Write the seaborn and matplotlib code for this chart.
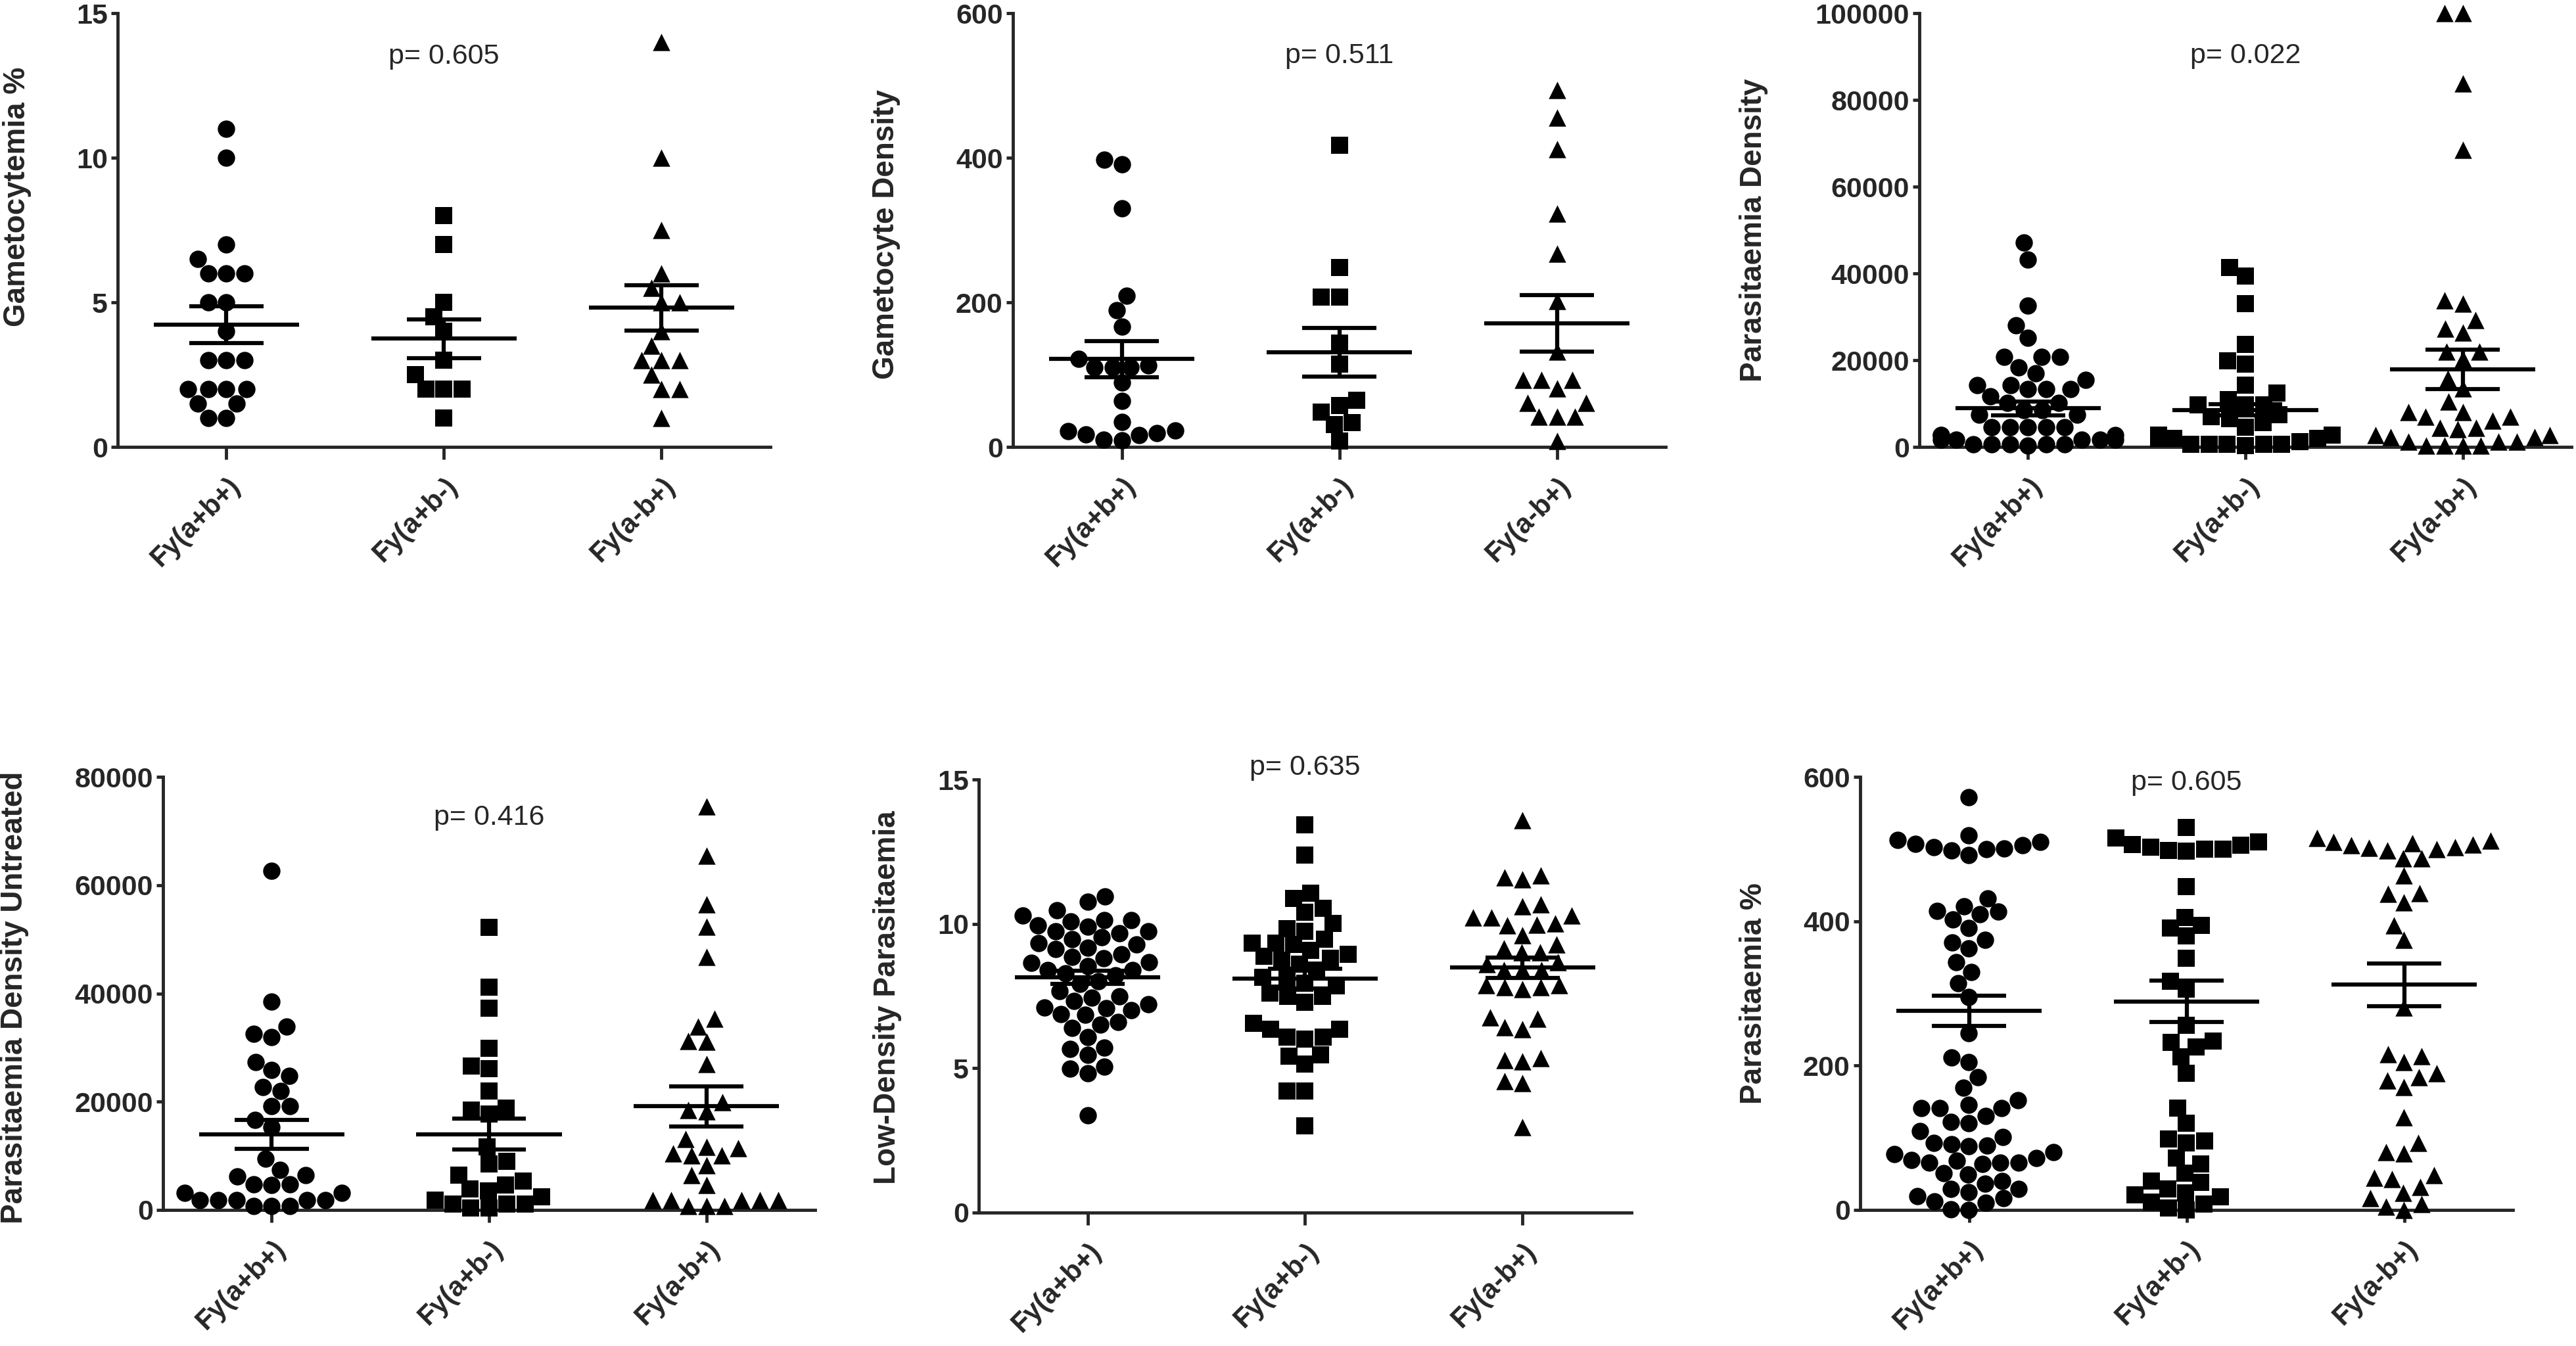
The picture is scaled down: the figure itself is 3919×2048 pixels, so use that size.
import numpy as np
import pandas as pd
import seaborn as sns
import matplotlib.pyplot as plt

# groupes et marqueurs
groups = ['Fy(a+b+)', 'Fy(a+b-)', 'Fy(a-b+)']
markers = ['o', 's', '^']

# Gametocytemia %
gam_pct_ab = [11, 10, 7, 6.5, 6, 6, 6, 5, 5, 4, 3, 3, 3, 2, 2, 2, 2, 1.5, 1.5, 1, 1]
gam_pct_a = [8, 7, 5, 4.5, 4, 3, 2.5, 2, 2, 2, 1]
gam_pct_b = [14, 10, 7.5, 6, 5.5, 5, 5, 4, 3.5, 3, 3, 3, 2.5, 2, 2, 1]
gam_pct_mean = [4.23, 3.74, 4.81]
gam_pct_sem = [0.63, 0.67, 0.79]

# Gametocyte Density
gam_den_ab = [397, 391, 330, 209, 189, 166, 122, 113, 110, 110, 110, 89, 64, 35,
              23, 22, 19, 17, 16, 10, 9]
gam_den_a = [417, 248, 207, 207, 144, 115, 65, 57, 48, 34, 31, 8]
gam_den_b = [494, 455, 412, 323, 267, 202, 132, 93, 93, 93, 81, 61, 61, 42, 42, 42, 8]
gam_den_mean = [121.6, 131, 171]
gam_den_sem = [25, 34, 39]

# Parasitaemia Density
par_den_ab = [47100, 43200, 32600, 28100, 25100, 20700, 20700, 20700, 18300, 16900,
              15400, 14300, 14300, 13300, 13300, 13300, 11600, 10200, 10200, 8500,
              8500, 7500, 7500, 4600, 4600, 4600, 4600, 4600, 2700, 2700, 2700,
              1700, 1700, 1700, 1700, 1700, 600, 600, 600, 600, 600, 300]
par_den_a = [41300, 39400, 33100, 23700, 19900, 19100, 14300, 12400, 10900, 9650,
             9650, 9650, 7500, 7000, 6560, 5600, 4600, 2700, 2700, 1900, 1900, 1900,
             1200, 600, 600, 600, 600, 600, 300]
par_den_b = [100000, 100000, 83800, 68500, 33800, 33100, 29250, 27300, 26350, 22000,
             22000, 20270, 15700, 13500, 10400, 8000, 8000, 7000, 7000, 6100, 4400,
             4400, 4150, 2700, 2700, 2200, 2200, 1250, 1250, 1250, 300, 300, 300, 300]
par_den_mean = [8880, 8500, 17860]
par_den_sem = [1535, 1300, 4500]

# Parasitaemia Density Untreated
par_unt_ab = [62600, 38540, 33860, 32510, 31940, 27330, 25900, 24770, 22710, 21930,
              19160, 19160, 16680, 15260, 9440, 7450, 6390, 6170, 4750, 4750, 4610,
              3200, 3200, 1770, 1770, 1770, 1770, 1770, 700, 700, 700]
par_unt_a = [52170, 41170, 37260, 29810, 26620, 26050, 22000, 18810, 18450, 17750,
             11710, 9010, 8520, 6390, 5320, 4610, 3900, 3550, 2480, 1770, 1060, 1060,
             1060, 350, 350]
par_unt_b = [74530, 65440, 56430, 52380, 46710, 35280, 33860, 31160, 31020, 26970,
             19870, 18450, 18240, 13130, 11710, 11360, 10500, 10080, 10080, 8300,
             6390, 4610, 1770, 1770, 1770, 1770, 1770, 700, 700, 700]
par_unt_mean = [13980, 13980, 19160]
par_unt_sem = [2660, 2840, 3700]

# Low-Density Parasitaemia
low_ab = [10.94, 10.77, 10.47, 10.28, 10.14, 10.14, 10.08, 9.94, 9.90, 9.74, 9.74,
          9.68, 9.54, 9.48, 9.34, 9.28, 9.17, 9.12, 8.94, 8.86, 8.81, 8.68, 8.65,
          8.54, 8.41, 8.41, 8.28, 8.21, 8.01, 7.91, 7.68, 7.48, 7.45, 7.32, 7.21,
          7.11, 7.08, 7.01, 6.87, 6.85, 6.59, 6.51, 6.39, 6.08, 5.71, 5.66, 5.46,
          5.06, 4.98, 4.82, 3.38]
low_a = [13.43, 12.38, 11.07, 10.87, 10.54, 10.41, 10.01, 9.84, 9.74, 9.48, 9.34,
         9.34, 9.28, 9.08, 8.94, 8.88, 8.81, 8.74, 8.61, 8.41, 8.15, 8.08, 7.95, 7.85,
         7.6, 7.48, 7.48, 7.28, 6.55, 6.35, 6.35, 6.08, 6.08, 6.0, 5.46, 5.42, 5.15,
         4.22, 4.22, 3.0]
low_b = [13.6, 11.67, 11.61, 11.54, 10.67, 10.61, 10.28, 10.21, 10.21, 10.01, 9.98,
         9.94, 9.61, 9.28, 9.14, 9.01, 9.01, 8.68, 8.61, 8.41, 8.41, 8.41, 7.88, 7.88,
         7.81, 7.81, 7.75, 6.77, 6.71, 6.41, 6.35, 5.35, 5.28, 5.24, 4.55, 4.49, 2.95]
low_mean = [8.15, 8.11, 8.48]
low_sem = [0.235, 0.34, 0.36]

# Parasitaemia %
pct_ab = [572, 519, 513, 510, 507, 505, 503, 501, 500, 498, 492, 432,
          421, 414, 413, 410, 402, 391, 374, 371, 362, 343, 330, 314, 295, 245, 211,
          205, 184, 169, 152, 146, 141, 141, 141, 130, 122, 120, 109, 101, 93, 91, 89,
          88, 80, 77, 72, 69, 68, 66, 66, 66, 64, 51, 49, 40, 36, 29, 29, 25, 19, 16,
          12, 10, 1, 0]
pct_a = [530, 515, 510, 506, 505, 503, 500, 500, 498, 497, 448, 405,
         394, 391, 380, 349, 317, 306, 256, 234, 232, 226, 212, 189, 141, 120, 98, 96,
         93, 72, 64, 51, 40, 38, 29, 24, 21, 18, 11, 8, 3, 0]
pct_b = [515, 512, 510, 508, 506, 505, 503, 502, 500, 498, 487,
         487, 463, 439, 438, 426, 394, 374, 280, 216, 213, 205, 189, 184, 179, 170,
         128, 93, 80, 78, 48, 45, 43, 32, 24, 16, 8, 5, 0]
pct_mean = [276, 289, 312]
pct_sem = [21, 28.5, 29.5]

ylabels = ['Gametocytemia %', 'Gametocyte Density', 'Parasitaemia Density',
           'Parasitaemia Density Untreated', 'Low-Density Parasitaemia', 'Parasitaemia %']
pvalues = ['p= 0.605', 'p= 0.511', 'p= 0.022', 'p= 0.416', 'p= 0.635', 'p= 0.605']
p_ypos = [13.5, 541, 90150, 72470, 15.4, 592]
yticks = [[0, 5, 10, 15], [0, 200, 400, 600], [0, 20000, 40000, 60000, 80000, 100000],
          [0, 20000, 40000, 60000, 80000], [0, 5, 10, 15], [0, 200, 400, 600]]

panel_data = [
    ([gam_pct_ab, gam_pct_a, gam_pct_b], gam_pct_mean, gam_pct_sem),
    ([gam_den_ab, gam_den_a, gam_den_b], gam_den_mean, gam_den_sem),
    ([par_den_ab, par_den_a, par_den_b], par_den_mean, par_den_sem),
    ([par_unt_ab, par_unt_a, par_unt_b], par_unt_mean, par_unt_sem),
    ([low_ab, low_a, low_b], low_mean, low_sem),
    ([pct_ab, pct_a, pct_b], pct_mean, pct_sem),
]

sns.set_style('ticks')
plt.rcParams['font.family'] = ['Liberation Sans', 'DejaVu Sans']

W, H = 3919, 2048
fig = plt.figure(figsize=(W / 100, H / 100), dpi=100)

# position des axes en pixels : gauche, droite, haut, bas
boxes = [(179, 1172, 20, 680), (1541, 2534, 20, 680), (2920, 3912, 20, 680),
         (248, 1240, 1182, 1841), (1489, 2482, 1186, 1845), (2830, 3823, 1182, 1841)]
label_x = [26, 1348, 2668, 22, 1350, 2668]
label_y = [0.576, 0.49, 0.5, 0.49, 0.496, 0.5]

lw = 4.5
for i, (vals, means, sems) in enumerate(panel_data):
    l, r, t, b = boxes[i]
    ax = fig.add_axes([l / W, 1 - b / H, (r - l) / W, (b - t) / H])
    df = pd.DataFrame({'group': np.repeat(groups, [len(v) for v in vals]),
                       'value': np.concatenate(vals)})
    for g, m in zip(groups, markers):
        sns.swarmplot(data=df[df.group == g], x='group', y='value', order=groups,
                      marker=m, color='black', size=19, ax=ax, warn_thresh=1)
    for coll in ax.collections:
        coll.set_clip_on(False)

    # moyenne +/- SEM
    x = np.arange(3)
    means = np.array(means)
    sems = np.array(sems)
    ax.hlines(means, x - 0.335, x + 0.335, color='black', lw=lw, zorder=5, clip_on=False)
    ax.hlines(means + sems, x - 0.17, x + 0.17, color='black', lw=lw, zorder=5, clip_on=False)
    ax.hlines(means - sems, x - 0.17, x + 0.17, color='black', lw=lw, zorder=5, clip_on=False)
    ax.vlines(x, means - sems, means + sems, color='black', lw=lw, zorder=5, clip_on=False)

    ax.set_xlim(-0.5, 2.5)
    ax.set_ylim(0, yticks[i][-1])
    ax.set_yticks(yticks[i])
    ax.set_yticklabels([str(v) for v in yticks[i]], fontsize=31, fontweight='bold')
    ax.set_xticks(x)
    ax.set_xticklabels(groups, rotation=45, ha='right', rotation_mode='anchor',
                       fontsize=30, fontweight='bold')
    ax.tick_params(axis='y', length=7, width=3.5, pad=4)
    ax.tick_params(axis='x', length=14, width=3.5, pad=14)
    sns.despine(ax=ax)
    ax.spines['left'].set_linewidth(3.5)
    ax.spines['bottom'].set_linewidth(3.5)
    ax.set_xlabel('')
    ax.set_ylabel(ylabels[i], fontsize=33, fontweight='bold', va='center')
    ax.yaxis.set_label_coords((label_x[i] - l) / (r - l), label_y[i])
    ax.text(1, p_ypos[i], pvalues[i], ha='center', va='center', fontsize=31)

plt.savefig('out.png', dpi=100)
